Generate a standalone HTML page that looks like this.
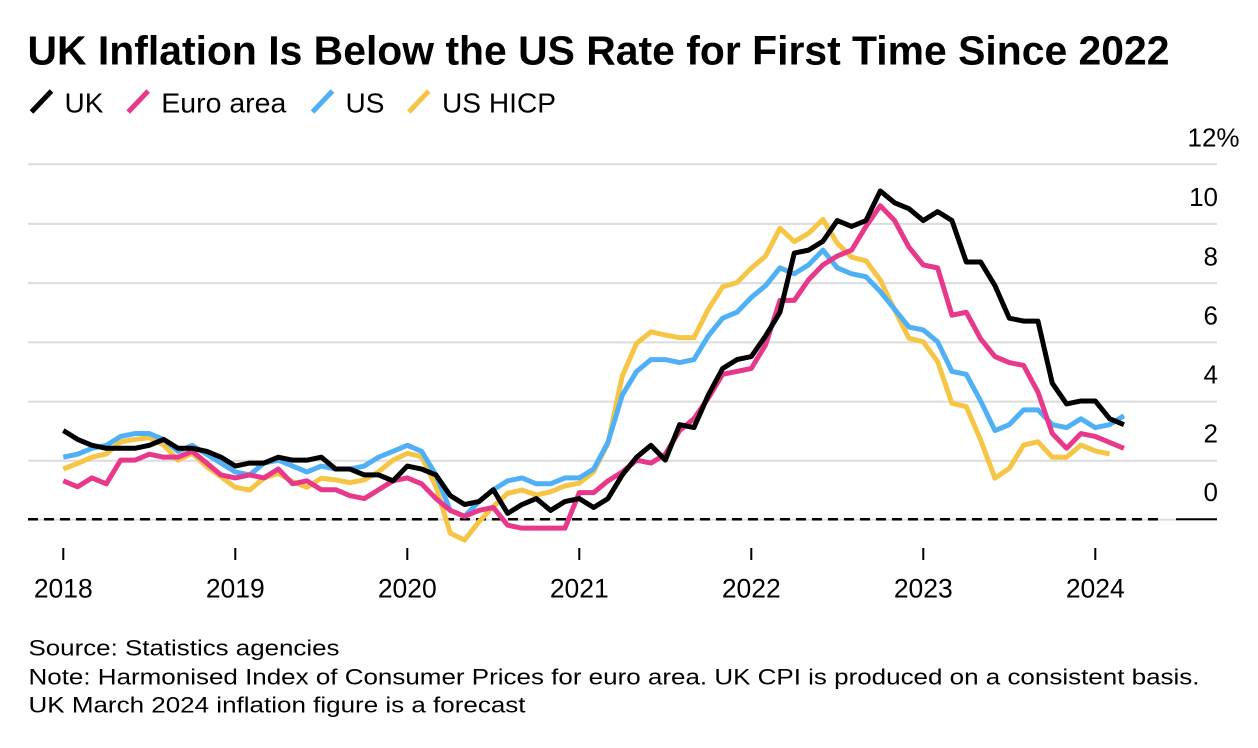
<!DOCTYPE html>
<html>
<head>
<meta charset="utf-8">
<style>
  html, body { margin: 0; padding: 0; background: #ffffff; }
  svg { display: block; }
  text { font-family: "Liberation Sans", Arial, sans-serif; fill: #000; }
</style>
</head>
<body>
<svg width="1258" height="748" viewBox="0 0 1258 748" xmlns="http://www.w3.org/2000/svg">
  <rect width="1258" height="748" fill="#ffffff"/>

  <!-- Title -->
  <text x="27.5" y="64.3" font-size="40.5" font-weight="bold" textLength="1142" lengthAdjust="spacingAndGlyphs">UK Inflation Is Below the US Rate for First Time Since 2022</text>

  <!-- Legend -->
  <g stroke-width="5" stroke-linecap="butt">
    <line x1="31.5" y1="112" x2="51.5" y2="91" stroke="#000000"/>
    <line x1="128.2" y1="112" x2="148.2" y2="91" stroke="#e8388b"/>
    <line x1="312.5" y1="112" x2="332.5" y2="91" stroke="#4fb0f6"/>
    <line x1="408.8" y1="112" x2="428.8" y2="91" stroke="#f6c545"/>
  </g>
  <text x="64.5" y="112.7" font-size="28">UK</text>
  <text x="161.3" y="112.7" font-size="28" textLength="125" lengthAdjust="spacingAndGlyphs">Euro area</text>
  <text x="345.5" y="112.7" font-size="28">US</text>
  <text x="442" y="112.7" font-size="28" textLength="114" lengthAdjust="spacingAndGlyphs">US HICP</text>

  <!-- Gridlines -->
  <g stroke="#dcdcdc" stroke-width="2">
    <line x1="28" y1="164.3" x2="1217" y2="164.3"/>
    <line x1="28" y1="223.9" x2="1217" y2="223.9"/>
    <line x1="28" y1="283.1" x2="1217" y2="283.1"/>
    <line x1="28" y1="342.4" x2="1217" y2="342.4"/>
    <line x1="28" y1="401.6" x2="1217" y2="401.6"/>
    <line x1="28" y1="460.7" x2="1217" y2="460.7"/>
    <line x1="28" y1="519.6" x2="1217" y2="519.6"/>
  </g>

  <!-- Zero line -->
  <line x1="28" y1="519.3" x2="1162" y2="519.3" stroke="#000" stroke-width="2.5" stroke-dasharray="10 6"/>
  <line x1="1176" y1="519.3" x2="1217" y2="519.3" stroke="#000" stroke-width="2"/>

  <!-- Y labels -->
  <g font-size="26" text-anchor="end">
    <text x="1218" y="206">10</text>
    <text x="1218" y="265.7">8</text>
    <text x="1218" y="324.5">6</text>
    <text x="1218" y="383.5">4</text>
    <text x="1218" y="442.7">2</text>
    <text x="1218" y="501">0</text>
  </g>
  <text x="1187.5" y="146.7" font-size="26">12%</text>

  <!-- X ticks -->
  <g stroke="#000" stroke-width="2">
    <line x1="63.3" y1="548" x2="63.3" y2="560"/>
    <line x1="235.3" y1="548" x2="235.3" y2="560"/>
    <line x1="407.3" y1="548" x2="407.3" y2="560"/>
    <line x1="579.3" y1="548" x2="579.3" y2="560"/>
    <line x1="751.3" y1="548" x2="751.3" y2="560"/>
    <line x1="923.3" y1="548" x2="923.3" y2="560"/>
    <line x1="1095.3" y1="548" x2="1095.3" y2="560"/>
  </g>
  <g font-size="26.5" text-anchor="middle">
    <text x="63.3" y="597.3">2018</text>
    <text x="235.3" y="597.3">2019</text>
    <text x="407.3" y="597.3">2020</text>
    <text x="579.3" y="597.3">2021</text>
    <text x="751.3" y="597.3">2022</text>
    <text x="923.3" y="597.3">2023</text>
    <text x="1095.3" y="597.3">2024</text>
  </g>

  <!-- Series: x = month index, y = value -->
  <g transform="translate(63.3,519.3) scale(14.333,-29.58)" fill="none" stroke-width="5" stroke-linejoin="round" stroke-linecap="butt">
    <!-- US HICP -->
    <polyline vector-effect="non-scaling-stroke" stroke="#f6c545" points="0,1.70 1,1.89 2,2.10 3,2.21 4,2.62 5,2.70 6,2.76 7,2.51 8,2.00 9,2.23 10,1.78 11,1.44 12,1.08 13,0.99 14,1.39 15,1.55 16,1.27 17,1.08 18,1.39 19,1.33 20,1.24 21,1.33 22,1.61 23,2.00 24,2.23 25,2.12 26,1.10 27,-0.47 28,-0.70 29,-0.08 30,0.43 31,0.88 32,0.99 33,0.82 34,0.93 35,1.13 36,1.22 37,1.61 38,2.57 39,4.85 40,5.95 41,6.34 42,6.23 43,6.14 44,6.14 45,7.10 46,7.86 47,8.00 48,8.49 49,8.90 50,9.84 51,9.39 52,9.67 53,10.14 54,9.33 55,8.86 56,8.74 57,8.09 58,7.08 59,6.12 60,6.00 61,5.33 62,3.92 63,3.81 64,2.68 65,1.39 66,1.72 67,2.51 68,2.62 69,2.10 70,2.10 71,2.51 72,2.31 73,2.21"/>
    <!-- US -->
    <polyline vector-effect="non-scaling-stroke" stroke="#4fb0f6" points="0,2.1 1,2.2 2,2.4 3,2.5 4,2.8 5,2.9 6,2.9 7,2.7 8,2.3 9,2.5 10,2.2 11,1.9 12,1.6 13,1.5 14,1.9 15,2.0 16,1.8 17,1.6 18,1.8 19,1.7 20,1.7 21,1.8 22,2.1 23,2.3 24,2.5 25,2.3 26,1.5 27,0.3 28,0.1 29,0.6 30,1.0 31,1.3 32,1.4 33,1.2 34,1.2 35,1.4 36,1.4 37,1.7 38,2.6 39,4.2 40,5.0 41,5.4 42,5.4 43,5.3 44,5.4 45,6.2 46,6.8 47,7.0 48,7.5 49,7.9 50,8.5 51,8.3 52,8.6 53,9.1 54,8.5 55,8.3 56,8.2 57,7.7 58,7.1 59,6.5 60,6.4 61,6.0 62,5.0 63,4.9 64,4.0 65,3.0 66,3.2 67,3.7 68,3.7 69,3.2 70,3.1 71,3.4 72,3.1 73,3.2 74,3.5"/>
    <!-- Euro area -->
    <polyline vector-effect="non-scaling-stroke" stroke="#e8388b" points="0,1.3 1,1.1 2,1.4 3,1.2 4,2.0 5,2.0 6,2.2 7,2.1 8,2.1 9,2.3 10,1.9 11,1.5 12,1.4 13,1.5 14,1.4 15,1.7 16,1.2 17,1.3 18,1.0 19,1.0 20,0.8 21,0.7 22,1.0 23,1.3 24,1.4 25,1.2 26,0.7 27,0.3 28,0.1 29,0.3 30,0.4 31,-0.2 32,-0.3 33,-0.3 34,-0.3 35,-0.3 36,0.9 37,0.9 38,1.3 39,1.6 40,2.0 41,1.9 42,2.2 43,3.0 44,3.4 45,4.1 46,4.9 47,5.0 48,5.1 49,5.9 50,7.4 51,7.4 52,8.1 53,8.6 54,8.9 55,9.1 56,9.9 57,10.6 58,10.1 59,9.2 60,8.6 61,8.5 62,6.9 63,7.0 64,6.1 65,5.5 66,5.3 67,5.2 68,4.3 69,2.9 70,2.4 71,2.9 72,2.8 73,2.6 74,2.4"/>
    <!-- UK -->
    <polyline vector-effect="non-scaling-stroke" stroke="#000000" points="0,3.0 1,2.7 2,2.5 3,2.4 4,2.4 5,2.4 6,2.5 7,2.7 8,2.4 9,2.4 10,2.3 11,2.1 12,1.8 13,1.9 14,1.9 15,2.1 16,2.0 17,2.0 18,2.1 19,1.7 20,1.7 21,1.5 22,1.5 23,1.3 24,1.8 25,1.7 26,1.5 27,0.8 28,0.5 29,0.6 30,1.0 31,0.2 32,0.5 33,0.7 34,0.3 35,0.6 36,0.7 37,0.4 38,0.7 39,1.5 40,2.1 41,2.5 42,2.0 43,3.2 44,3.1 45,4.2 46,5.1 47,5.4 48,5.5 49,6.2 50,7.0 51,9.0 52,9.1 53,9.4 54,10.1 55,9.9 56,10.1 57,11.1 58,10.7 59,10.5 60,10.1 61,10.4 62,10.1 63,8.7 64,8.7 65,7.9 66,6.8 67,6.7 68,6.7 69,4.6 70,3.9 71,4.0 72,4.0 73,3.4 74,3.2"/>
  </g>

  <!-- Footer -->
  <g font-size="22.5">
    <text x="28.5" y="655.7" textLength="311" lengthAdjust="spacingAndGlyphs">Source: Statistics agencies</text>
    <text x="28.5" y="684.3" textLength="1171" lengthAdjust="spacingAndGlyphs">Note: Harmonised Index of Consumer Prices for euro area. UK CPI is produced on a consistent basis.</text>
    <text x="28.5" y="712.3" textLength="497" lengthAdjust="spacingAndGlyphs">UK March 2024 inflation figure is a forecast</text>
  </g>
</svg>
</body>
</html>
